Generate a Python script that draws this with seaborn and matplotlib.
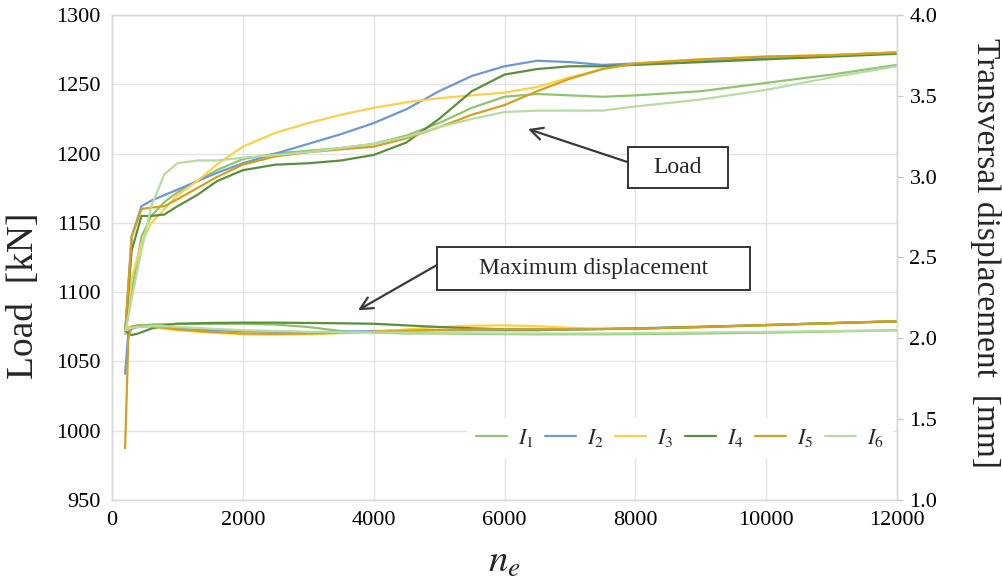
import matplotlib
matplotlib.use("Agg")
import matplotlib.pyplot as plt
import pandas as pd
import seaborn as sns
from matplotlib.patches import Rectangle

# specimens and colours
SPECIMENS = [r"$I_1$", r"$I_2$", r"$I_3$", r"$I_4$", r"$I_5$", r"$I_6$"]
COLORS = ["#8fc56e", "#6e97d8", "#fdd047", "#5a8f3c", "#d4a11e", "#b7dca3"]

# load curves [kN] vs n_e
LOAD_N = [200, 300, 450, 600, 800, 1000, 1300, 1600, 2000, 2500, 3000, 3500, 4000,
          4500, 5000, 5500, 6000, 6500, 7000, 7500, 8000, 9000, 10000, 11000, 12000]
LOAD_I1 = [1070, 1100, 1140, 1155, 1165, 1172, 1180, 1188, 1196, 1200, 1202, 1204, 1207,
           1213, 1222, 1233, 1241, 1243, 1242, 1241, 1242, 1245, 1251, 1257, 1264]
LOAD_I2 = [1070, 1140, 1162, 1166, 1170, 1174, 1180, 1186, 1193, 1200, 1207, 1214, 1222,
           1232, 1245, 1256, 1263, 1267, 1266, 1264, 1265, 1267, 1269, 1271, 1273]
LOAD_I3 = [1070, 1110, 1135, 1150, 1160, 1170, 1180, 1192, 1205, 1215, 1222, 1228, 1233,
           1237, 1240, 1242, 1244, 1248, 1255, 1261, 1265, 1268, 1270, 1271, 1273]
LOAD_I4 = [1070, 1130, 1155, 1155, 1156, 1162, 1170, 1180, 1188, 1192, 1193, 1195, 1199,
           1208, 1225, 1245, 1257, 1261, 1263, 1263, 1264, 1266, 1268, 1270, 1272]
LOAD_I5 = [1070, 1140, 1160, 1161, 1162, 1167, 1175, 1183, 1192, 1198, 1201, 1203, 1205,
           1211, 1219, 1228, 1235, 1245, 1254, 1261, 1265, 1268, 1270, 1271, 1273]
LOAD_I6 = [1070, 1095, 1130, 1162, 1185, 1193, 1195, 1195, 1197, 1199, 1201, 1204, 1207,
           1212, 1219, 1225, 1230, 1231, 1231, 1231, 1234, 1239, 1246, 1255, 1263]

# maximum transversal displacement [mm] vs n_e
DISP_N = [200, 250, 300, 400, 600, 800, 1000, 1500, 2000, 2500, 3000, 3500, 4000,
          4500, 5000, 5500, 6000, 6500, 7000, 7500, 8000, 9000, 10000, 11000, 12000]
DISP_I1 = [2.05, 2.06, 2.07, 2.08, 2.085, 2.088, 2.09, 2.09, 2.09, 2.085, 2.07, 2.045, 2.035,
           2.03, 2.03, 2.028, 2.026, 2.025, 2.025, 2.025, 2.026, 2.03, 2.035, 2.042, 2.05]
DISP_I2 = [1.78, 2.04, 2.06, 2.07, 2.07, 2.065, 2.06, 2.05, 2.045, 2.04, 2.038, 2.04, 2.045,
           2.048, 2.05, 2.05, 2.05, 2.05, 2.055, 2.058, 2.062, 2.072, 2.082, 2.094, 2.105]
DISP_I3 = [2.05, 2.07, 2.075, 2.075, 2.07, 2.06, 2.05, 2.035, 2.025, 2.022, 2.025, 2.032, 2.04,
           2.055, 2.07, 2.078, 2.08, 2.075, 2.065, 2.058, 2.058, 2.068, 2.08, 2.092, 2.105]
DISP_I4 = [2.05, 2.03, 2.02, 2.03, 2.06, 2.08, 2.09, 2.095, 2.097, 2.097, 2.095, 2.093, 2.09,
           2.08, 2.07, 2.062, 2.056, 2.055, 2.055, 2.057, 2.06, 2.07, 2.082, 2.094, 2.105]
DISP_I5 = [1.32, 2.0, 2.07, 2.08, 2.075, 2.065, 2.055, 2.04, 2.03, 2.028, 2.03, 2.035, 2.04,
           2.048, 2.052, 2.055, 2.056, 2.056, 2.057, 2.058, 2.06, 2.07, 2.082, 2.094, 2.107]
DISP_I6 = [2.05, 2.06, 2.065, 2.07, 2.075, 2.075, 2.07, 2.06, 2.05, 2.045, 2.04, 2.038, 2.036,
           2.035, 2.034, 2.032, 2.03, 2.03, 2.03, 2.03, 2.032, 2.036, 2.04, 2.045, 2.05]

LOAD_TICKS = [950, 1000, 1050, 1100, 1150, 1200, 1250, 1300]
DISP_TICKS = [1.0, 1.5, 2.0, 2.5, 3.0, 3.5, 4.0]
N_TICKS = [0, 2000, 4000, 6000, 8000, 10000, 12000]


def long_frame(xs, series):
    rows = []
    for name, ys in zip(SPECIMENS, series):
        for x, y in zip(xs, ys):
            rows.append({"n": x, "value": y, "specimen": name})
    return pd.DataFrame(rows)


def main():
    sns.set_theme(style="whitegrid")
    plt.rcParams["font.family"] = ["Liberation Serif", "DejaVu Serif"]
    plt.rcParams["mathtext.fontset"] = "stix"

    load_df = long_frame(LOAD_N, [LOAD_I1, LOAD_I2, LOAD_I3, LOAD_I4, LOAD_I5, LOAD_I6])
    disp_df = long_frame(DISP_N, [DISP_I1, DISP_I2, DISP_I3, DISP_I4, DISP_I5, DISP_I6])

    fig = plt.figure(figsize=(10.02, 5.86), dpi=100)
    ax = fig.add_axes([0.1118, 0.1468, 0.7834, 0.8276])
    ax2 = ax.twinx()

    sns.lineplot(data=load_df, x="n", y="value", hue="specimen", hue_order=SPECIMENS,
                 palette=COLORS, estimator=None, linewidth=1.6, ax=ax)
    sns.lineplot(data=disp_df, x="n", y="value", hue="specimen", hue_order=SPECIMENS,
                 palette=COLORS, estimator=None, linewidth=1.6, ax=ax2, legend=False)

    ax.set_xlim(0, 12000)
    ax.set_ylim(950, 1300)
    ax2.set_ylim(1.0, 4.0)
    ax.set_xticks(N_TICKS)
    ax.set_yticks(LOAD_TICKS)
    ax2.set_yticks(DISP_TICKS)
    ax2.set_yticklabels([f"{v:.1f}" for v in DISP_TICKS])

    ax.grid(True, color="#e4e4e4", linewidth=1)
    ax2.grid(False)
    for a in (ax, ax2):
        for spine in a.spines.values():
            spine.set_color("#d9d9d9")
            spine.set_linewidth(1)
    ax.tick_params(axis="both", length=0, pad=8, labelsize=16, colors="black")
    ax2.tick_params(axis="y", length=4, width=1, color="#c8c8c8", pad=5,
                    labelsize=16, labelcolor="black")

    ax.set_xlabel(r"$n_e$", fontsize=28, va="center")
    ax.xaxis.set_label_coords(0.5, -0.128)
    ax.set_ylabel("Load  [kN]", fontsize=27, va="center")
    ax.yaxis.set_label_coords(-0.113, 0.42)
    ax2.set_ylabel("Transversal displacement  [mm]", fontsize=24, rotation=270, va="center")
    ax2.yaxis.set_label_coords(1.113, 0.51)

    ax.get_legend().remove()
    handles, labels = ax.get_legend_handles_labels()
    ax.legend(handles, labels, ncol=6, loc="center right", bbox_to_anchor=(1.0, 0.128),
              frameon=True, facecolor="white", edgecolor="none", framealpha=1,
              fontsize=16, handlelength=1.4, handletextpad=0.5, columnspacing=0.5,
              borderaxespad=0.2)

    # annotation boxes
    for x0, w, y0, h, label in [(0.657, 0.1274, 0.643, 0.0845, "Load"),
                                (0.414, 0.3987, 0.433, 0.0887, "Maximum displacement")]:
        ax2.add_patch(Rectangle((x0, y0), w, h, transform=ax2.transAxes, facecolor="white",
                                edgecolor="#333333", linewidth=1.4, zorder=5))
        ax2.text(x0 + w / 2, y0 + h / 2, label, transform=ax2.transAxes, ha="center",
                 va="center", fontsize=17, zorder=6)

    arrow = dict(arrowstyle="->", color="#3a3a3a", lw=1.6, mutation_scale=22,
                 shrinkA=0, shrinkB=0)
    ax.annotate("", xy=(6359, 1217.7), xytext=(7873, 1194), arrowprops=arrow, zorder=6)
    ax.annotate("", xy=(3761, 1087), xytext=(4968, 1119.6), arrowprops=arrow, zorder=6)

    fig.savefig("out.png", dpi=100)
    plt.close(fig)


if __name__ == "__main__":
    main()
